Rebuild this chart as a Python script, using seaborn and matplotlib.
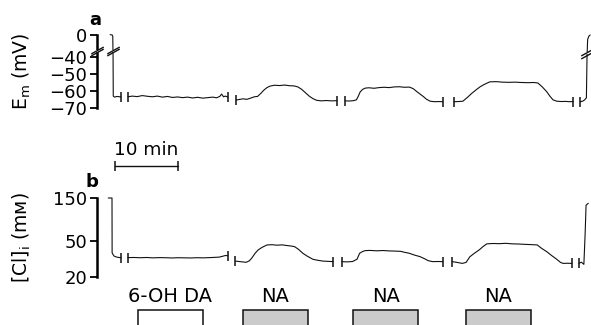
import numpy as np
import pandas as pd
import matplotlib
matplotlib.use("Agg")
import matplotlib.pyplot as plt
import seaborn as sns

# ---------------- data (time in min, as plotted) -------------
# panel a : membrane potential (mV), recording split into segments
a_seg1_t = [-0.3, 0.0, 0.12, 0.17, 0.2, 0.4, 0.8, 1.43]
a_seg1_v = [0.6, 0.2, -2.0, -40.0, -63.0, -63.6, -63.2, -63.5]
a_seg2_t = [2.54, 3.2, 4.0, 4.8, 5.6, 6.4, 7.2, 8.0, 8.8, 9.6, 10.4, 11.2, 12.0, 12.8,
            13.6, 14.4, 15.2, 16.0, 16.6, 17.1, 17.4, 17.7, 18.0, 18.4]
a_seg2_v = [-63.4, -63.0, -63.3, -62.7, -63.1, -63.4, -63.0, -63.6, -63.2, -63.8, -63.5,
            -63.9, -63.6, -64.1, -63.7, -64.2, -63.9, -63.6, -64.0, -63.2, -61.8, -63.4,
            -63.0, -63.6]
a_seg3_t = [19.7, 20.2, 20.8, 21.4, 22.0, 22.6, 23.1, 23.6, 24.1, 24.6, 25.1, 25.8, 26.6,
            27.4, 28.2, 28.9, 29.5, 30.1, 30.7, 31.3, 31.9, 32.5, 33.2, 34.0, 34.8, 35.7]
a_seg3_v = [-65.3, -65.0, -64.6, -64.9, -64.2, -63.4, -63.2, -61.5, -59.5, -58.0, -57.1,
            -56.6, -56.8, -56.5, -56.9, -57.0, -57.6, -59.0, -61.0, -63.0, -64.5, -65.5,
            -65.8, -65.6, -65.8, -65.7]
a_seg4_t = [37.0, 37.6, 38.3, 38.8, 39.1, 39.4, 39.8, 40.2, 40.8, 41.6, 42.4, 43.2, 44.0,
            44.8, 45.6, 46.4, 47.2, 47.8, 48.4, 48.9, 49.4, 49.9, 50.5, 51.2, 51.9, 52.5]
a_seg4_v = [-65.8, -65.9, -65.7, -65.2, -63.0, -60.5, -59.0, -58.3, -58.1, -58.4, -58.0,
            -57.8, -58.0, -57.6, -57.5, -57.8, -57.7, -58.6, -60.4, -61.8, -63.2, -64.8,
            -66.0, -66.3, -66.2, -66.3]
a_seg5_t = [54.3, 55.0, 55.7, 56.4, 57.1, 57.8, 58.4, 58.9, 59.5, 60.0, 61.0, 62.0, 63.0,
            64.0, 65.0, 66.0, 67.0, 67.6, 68.3, 69.0, 69.5, 70.0, 70.6, 71.3, 72.0, 72.6, 73.2]
a_seg5_v = [-66.3, -66.2, -66.0, -63.8, -61.4, -59.3, -57.6, -56.5, -55.4, -54.6, -54.5,
            -54.8, -54.9, -54.8, -55.0, -55.1, -55.0, -55.3, -57.6, -60.4, -63.0, -65.2,
            -66.0, -66.2, -66.1, -66.3, -66.2]
a_seg6_t = [74.3, 74.7, 75.0, 75.3, 75.4, 75.5, 75.7, 75.9]
a_seg6_v = [-66.3, -66.0, -65.3, -64.0, -40.0, -8.0, -2.0, 0.0]

# panel b : intracellular chloride (mM)
b_seg1_t = [-0.6, 0.0, 0.02, 0.3, 0.7, 1.1, 1.43]
b_seg1_v = [150, 150, 37, 34.2, 33.3, 32.9, 32.7]
b_seg2_t = [2.54, 3.5, 4.5, 5.5, 6.5, 7.5, 8.5, 9.5, 10.5, 11.5, 12.5, 13.5, 14.5, 15.5,
            16.3, 17.0, 17.6, 18.0, 18.4]
b_seg2_v = [32.8, 32.9, 32.7, 32.9, 32.6, 32.8, 32.7, 32.5, 32.7, 32.6, 32.5, 32.7, 32.6,
            32.8, 33.0, 33.2, 34.0, 34.6, 34.4]
b_seg3_t = [19.6, 20.5, 21.3, 21.8, 22.2, 22.7, 23.2, 23.8, 24.6, 25.4, 26.2, 27.0, 27.8,
            28.5, 29.0, 29.6, 30.3, 31.0, 31.9, 32.7, 33.5, 34.3, 35.1]
b_seg3_v = [30.0, 29.5, 29.1, 30.2, 32.5, 36.5, 39.9, 42.5, 45.3, 45.6, 45.0, 45.4, 44.6,
            44.0, 43.3, 40.5, 36.6, 34.0, 31.4, 30.6, 30.0, 29.8, 29.6]
b_seg4_t = [36.5, 37.3, 38.2, 38.9, 39.3, 39.8, 40.2, 41.0, 42.0, 43.0, 44.0, 45.0, 45.8,
            46.4, 47.2, 48.0, 48.9, 49.6, 50.2, 50.9, 51.7, 52.5]
b_seg4_v = [29.6, 29.4, 29.7, 31.5, 36.6, 38.4, 39.2, 39.4, 39.0, 39.3, 38.9, 38.7, 38.5,
            37.6, 36.6, 35.0, 33.6, 31.9, 30.3, 29.6, 29.7, 29.6]
b_seg5_t = [54.0, 54.8, 55.6, 56.2, 56.8, 57.6, 58.3, 58.9, 59.5, 60.5, 61.5, 62.5, 63.5,
            64.5, 65.5, 66.5, 67.5, 68.2, 69.0, 69.8, 70.6, 71.2, 71.6, 72.3, 73.0]
b_seg5_v = [29.6, 29.0, 28.3, 29.0, 33.5, 37.0, 40.0, 43.5, 46.6, 47.0, 46.8, 47.2, 46.6,
            46.4, 46.0, 45.7, 45.3, 41.5, 38.2, 34.5, 31.4, 29.0, 28.3, 28.4, 28.3]
b_seg6_t = [74.1, 74.5, 74.9, 75.1, 75.25, 75.6]
b_seg6_v = [28.3, 29.2, 27.6, 60.0, 125.0, 131.0]

# treatments (min)
treat_names = ["6-OH DA", "NA", "NA", "NA"]
treat_start = [4.1, 20.8, 38.3, 56.2]
treat_end = [14.4, 31.1, 48.6, 66.5]
treat_fill = ["white", "#cbcbcb", "#cbcbcb", "#cbcbcb"]

a_ticks = [-70, -60, -50, -40, 0]
a_ticklabels = ["\u221270", "\u221260", "\u221250", "\u221240", "0"]
b_ticks = [20, 50, 150]
b_ticklabels = ["20", "50", "150"]

# ---------------- style ----------------
sns.set_theme(style="white")
plt.rcParams["font.family"] = ["DejaVu Sans"]
plt.rcParams["mathtext.fontset"] = "dejavusans"
plt.rcParams["text.color"] = "black"
plt.rcParams["axes.labelcolor"] = "black"

W, H = 591, 325
fig = plt.figure(figsize=(W / 100, H / 100), dpi=100)
ax_a = fig.add_axes([97 / W, 1 - 108 / H, 494 / W, 73 / H])
ax_b = fig.add_axes([97 / W, 1 - 277 / H, 494 / W, 79 / H])
ax_c = fig.add_axes([97 / W, 0, 494 / W, 15.5 / H])

XLIM = ((97 - 112) / 6.3, (591 - 112) / 6.3)

def frame(segs):
    rows = []
    for i, (t, v) in enumerate(segs):
        for ti, vi in zip(t, v):
            rows.append((i, ti, vi))
    return pd.DataFrame(rows, columns=["seg", "t", "v"])

segs_a = [(a_seg1_t, a_seg1_v), (a_seg2_t, a_seg2_v), (a_seg3_t, a_seg3_v),
          (a_seg4_t, a_seg4_v), (a_seg5_t, a_seg5_v), (a_seg6_t, a_seg6_v)]
segs_b = [(b_seg1_t, b_seg1_v), (b_seg2_t, b_seg2_v), (b_seg3_t, b_seg3_v),
          (b_seg4_t, b_seg4_v), (b_seg5_t, b_seg5_v), (b_seg6_t, b_seg6_v)]

# broken (compressed) scale above -40 mV for panel a
K = 22 / 68
fwd = lambda v: np.where(np.asarray(v) > -40, -40 + (np.asarray(v) + 40) * K, np.asarray(v))
inv = lambda y: np.where(np.asarray(y) > -40, -40 + (np.asarray(y) + 40) / K, np.asarray(y))
ax_a.set_yscale("function", functions=(fwd, inv))
ax_b.set_yscale("log")

for ax, segs in ((ax_a, segs_a), (ax_b, segs_b)):
    df = frame(segs)
    sns.lineplot(data=df, x="t", y="v", units="seg", estimator=None, sort=False,
                 color="#111111", lw=0.8, ax=ax, legend=False)
    # segment end marks
    ex, ey = [], []
    for i, (t, v) in enumerate(segs):
        if i > 0:
            ex.append(t[0]); ey.append(v[0])
        if i < len(segs) - 1:
            ex.append(t[-1]); ey.append(v[-1])
    ax.plot(ex, ey, ls="none", marker="|", ms=6.5, mew=1.1, color="#111111")
    for ln in ax.lines:
        ln.set_clip_on(False)
    ax.set_xlim(*XLIM)
    ax.set_xticks([])
    ax.set_xlabel("")
    sns.despine(ax=ax, bottom=True)
    ax.spines["left"].set_linewidth(1.8)
    ax.spines["left"].set_color("black")
    ax.tick_params(axis="y", which="major", length=5, width=1.3, pad=2,
                   labelsize=13, left=True, colors="black")
    ax.tick_params(axis="y", which="minor", left=False)
    ax.set_facecolor("none")

ax_a.set_ylim(-70, 0)
ax_a.spines["left"].set_bounds(-70, 0)
ax_a.set_yticks(a_ticks)
ax_a.set_yticklabels(a_ticklabels)
ax_a.set_ylabel(r"E$_\mathrm{m}$ (mV)", fontsize=13.5)
ax_a.yaxis.set_label_coords(-0.13, 0.5)

ax_b.set_ylim(20, 150)
ax_b.spines["left"].set_bounds(20, 150)
ax_b.yaxis.set_minor_locator(matplotlib.ticker.NullLocator())
ax_b.set_yticks(b_ticks)
ax_b.set_yticklabels(b_ticklabels)
ax_b.set_ylabel(r"[Cl]$_\mathrm{i}$ (m" + "\u1d0d)", fontsize=13.5)
ax_b.yaxis.set_label_coords(-0.13, 0.5)

# axis-break symbols on panel a (spine and trace)
def axis_break(ax, x, yc, transform):
    ax.plot([x, x], [yc + 2.2, yc - 2.2], transform=transform, color="white",
            lw=4, clip_on=False, zorder=10, solid_capstyle="butt")
    ax.plot([x, x], [yc + 2.6, yc - 2.6], transform=transform, ls="none",
            marker=[(-1, -0.55), (1, 0.55)], ms=9, mew=1.0, color="#111111",
            clip_on=False, zorder=11)

axis_break(ax_a, 0, -29, ax_a.get_yaxis_transform())
axis_break(ax_a, 0.17, -29, ax_a.transData)
axis_break(ax_a, 75.4, -33, ax_a.transData)

# time scale bar
xt = ax_b.get_xaxis_transform()
ax_b.plot([0.5, 10.5], [1.405, 1.405], transform=xt, color="#111111", lw=1.0,
          marker="|", ms=7, mew=1.1, clip_on=False)
ax_b.text(5.5, 1.544, "10 min", transform=xt, ha="center", va="baseline", fontsize=13.3)

# panel letters
fig.text(95 / W, 1 - 25 / H, "a", weight="bold", fontsize=13, ha="center", va="baseline")
fig.text(92 / W, 1 - 187 / H, "b", weight="bold", fontsize=13, ha="center", va="baseline")

# treatment boxes
dur = [e - s for s, e in zip(treat_start, treat_end)]
ax_c.bar(treat_start, 2, width=dur, bottom=-1, align="edge", color=treat_fill,
         edgecolor="#111111", linewidth=1.1, clip_on=False)
for s, e, name in zip(treat_start, treat_end, treat_names):
    ax_c.text((s + e) / 2, 1.5, name, ha="center", va="baseline", fontsize=14)
ax_c.set_xlim(*XLIM)
ax_c.set_ylim(0, 1)
ax_c.axis("off")

fig.savefig("out.png", dpi=100, facecolor="white")
